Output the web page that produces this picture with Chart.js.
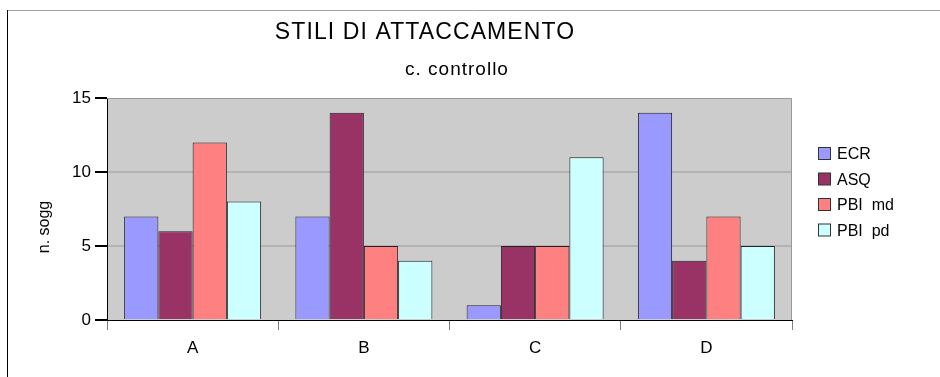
<!DOCTYPE html>
<html>
<head>
<meta charset="utf-8">
<script src="https://cdn.jsdelivr.net/npm/chart.js@4"></script>
<style>
  body { margin: 0; background: #fff; }
  #wrap { width: 940px; height: 377px; position: relative; }
</style>
</head>
<body>
<div id="wrap"><canvas id="attachment-chart"></canvas></div>
<script>
const categories = ['A', 'B', 'C', 'D'];
const seriesNames = ['ECR', 'ASQ', 'PBI  md', 'PBI  pd'];
const ecr = [7, 7, 1, 14];
const asq = [6, 14, 5, 4];
const pbiMd = [12, 5, 5, 7];
const pbiPd = [8, 4, 11, 5];
const yTicks = [0, 5, 10, 15];

const FONT = "'Liberation Sans', Arial, sans-serif";

function getColor(name) {
    if (name === 'ECR') return '#9999ff';
    if (name === 'ASQ') return '#993366';
    if (name === 'PBI  md') return '#ff8080';
    if (name === 'PBI  pd') return '#ccffff';
}

// background of the plot, outer frame, titles and legend
const decorations = {
    id: 'decorations',
    beforeDraw(chart) {
        const { ctx, chartArea: a } = chart;
        ctx.save();
        ctx.fillStyle = '#cccccc';
        ctx.fillRect(a.left, a.top, a.right - a.left, a.bottom - a.top);
        ctx.restore();
    },
    afterDraw(chart) {
        const { ctx, chartArea: a } = chart;
        ctx.save();
        // plot border top/right
        ctx.strokeStyle = '#999999';
        ctx.lineWidth = 1;
        ctx.beginPath();
        ctx.moveTo(a.left, a.top + 0.5);
        ctx.lineTo(a.right - 0.5, a.top + 0.5);
        ctx.lineTo(a.right - 0.5, a.bottom);
        ctx.stroke();
        // outer frame
        ctx.strokeStyle = '#a0a0a0';
        ctx.beginPath();
        ctx.moveTo(7, 10.5);
        ctx.lineTo(940, 10.5);
        ctx.stroke();
        ctx.strokeStyle = '#000';
        ctx.beginPath();
        ctx.moveTo(7.5, 10);
        ctx.lineTo(7.5, 377);
        ctx.stroke();

        ctx.fillStyle = '#000';
        ctx.textAlign = 'center';
        ctx.textBaseline = 'middle';
        ctx.font = '23px ' + FONT;
        ctx.letterSpacing = '1.1px';
        ctx.fillText('STILI DI ATTACCAMENTO', 425, 33);
        ctx.font = '19px ' + FONT;
        ctx.letterSpacing = '1px';
        ctx.fillText('c. controllo', 457, 70);
        ctx.letterSpacing = '0px';

        // y axis title
        ctx.save();
        ctx.translate(45, 227);
        ctx.rotate(-Math.PI / 2);
        ctx.font = '16px ' + FONT;
        ctx.fillText('n. sogg', 0, 0);
        ctx.restore();

        // legend
        ctx.textAlign = 'left';
        ctx.font = '16px ' + FONT;
        chart.data.datasets.forEach((ds, i) => {
            const y = 154 + i * 25.5;
            ctx.fillStyle = ds.backgroundColor;
            ctx.fillRect(818.5, y - 6.5, 12, 12);
            ctx.strokeStyle = '#333';
            ctx.strokeRect(818.5, y - 6.5, 12, 12);
            ctx.fillStyle = '#000';
            ctx.fillText(ds.label, 837, y + 1);
        });
        ctx.restore();
    }
};

new Chart(document.querySelector('#attachment-chart').getContext('2d'), {
    type: 'bar',
    data: {
        labels: categories,
        datasets: [ecr, asq, pbiMd, pbiPd].map((values, i) => ({
            label: seriesNames[i],
            data: values,
            backgroundColor: getColor(seriesNames[i]),
            borderColor: '#222',
            borderWidth: 1,
            categoryPercentage: 0.8,
            barPercentage: 1
        }))
    },
    options: {
        responsive: true,
        maintainAspectRatio: false,
        animation: false,
        layout: { padding: { top: 98, right: 148, left: 0, bottom: 0 } },
        plugins: {
            legend: { display: false },
            title: { display: false },
            tooltip: { enabled: false }
        },
        scales: {
            x: {
                afterFit(scale) { scale.height = 57; },
                grid: {
                    offset: true,
                    drawOnChartArea: false,
                    tickLength: 10,
                    color: '#808080'
                },
                border: { color: '#000', width: 1 },
                ticks: {
                    color: '#000',
                    font: { family: FONT, size: 17 },
                    padding: 8
                }
            },
            y: {
                min: 0,
                max: 15,
                afterFit(scale) { scale.width = 107; },
                afterBuildTicks(scale) { scale.ticks = yTicks.map(v => ({ value: v })); },
                grid: {
                    color: ctx => (ctx.tick && (ctx.tick.value === 5 || ctx.tick.value === 10)) ? '#b3b3b3' : 'rgba(0,0,0,0)',
                    lineWidth: 2,
                    tickColor: '#000',
                    tickLength: 12
                },
                border: { color: '#000', width: 1 },
                ticks: {
                    color: '#000',
                    font: { family: FONT, size: 17 },
                    padding: 4
                }
            }
        }
    },
    plugins: [decorations]
});
</script>
</body>
</html>
